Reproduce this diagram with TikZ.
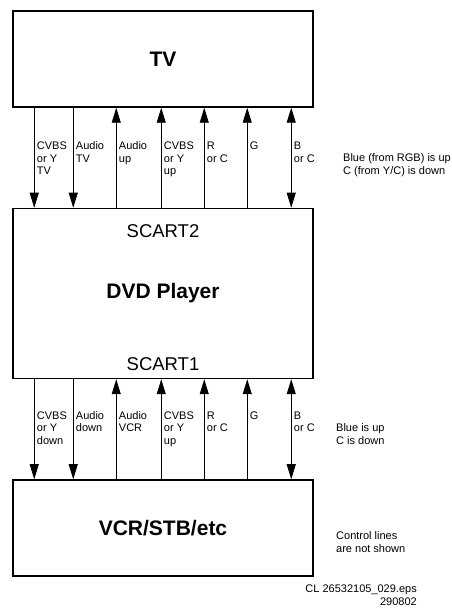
\documentclass[tikz,border=0pt]{standalone}
\usepackage{fontspec}
\setmainfont{Liberation Sans}
\usetikzlibrary{positioning,arrows.meta}

\begin{document}
\begin{tikzpicture}[x=1pt,y=1pt,
  unit/.style={rectangle,draw,line width=1.5pt,minimum width=300pt,inner sep=0pt,font=\fontsize{21}{24}\selectfont\bfseries},
  port/.style={inner sep=0pt,font=\fontsize{18.5}{22}\selectfont},
  sig/.style={line width=0.8pt,>={Triangle[length=15pt,width=9pt]}},
  lbl/.style={anchor=north west,inner sep=0pt,align=left,font=\fontsize{11}{12.5}\selectfont},
  note/.style={anchor=north west,inner sep=0pt,align=left,font=\fontsize{11}{13}\selectfont},
]
\useasboundingbox (0,0) rectangle (451,608);

% Units
\node[unit,minimum height=96pt] (TV) at (163,549) {TV};
\node[unit,minimum height=170pt,below=100pt of TV] (DVD) {DVD Player};
\node[unit,minimum height=96pt,below=100pt of DVD] (VCR) {VCR/STB/etc};

% Connectors on the DVD player
\node[port] (scart2) at ([yshift=-23pt]DVD.north) {SCART2};
\node[port] (scart1) at ([yshift=15pt]DVD.south) {SCART1};

% Signals between TV and DVD
\foreach \x in {22,61}
  \draw[sig,->] ([xshift=\x]TV.south west) -- ([xshift=\x]DVD.north west);
\foreach \x in {104,149,192,235}
  \draw[sig,<-] ([xshift=\x]TV.south west) -- ([xshift=\x]DVD.north west);
\draw[sig,<->] ([xshift=279]TV.south west) -- ([xshift=279]DVD.north west);

% Signals between DVD and VCR
\foreach \x in {22,61}
  \draw[sig,->] ([xshift=\x]DVD.south west) -- ([xshift=\x]VCR.north west);
\foreach \x in {104,149,192,235}
  \draw[sig,<-] ([xshift=\x]DVD.south west) -- ([xshift=\x]VCR.north west);
\draw[sig,<->] ([xshift=279]DVD.south west) -- ([xshift=279]VCR.north west);

% Signal names
\foreach \x/\t in {22/{CVBS\\or Y\\TV},61/{Audio\\TV},104/{Audio\\up},149/{CVBS\\or Y\\up},192/{R\\or C},235/G,279/{B\\or C}}
  \node[lbl] (up\x) at ([xshift=\x+2.5,yshift=-34]TV.south west) {\t};
\foreach \x/\t in {22/{CVBS\\or Y\\down},61/{Audio\\down},104/{Audio\\VCR},149/{CVBS\\or Y\\up},192/{R\\or C},235/G,279/{B\\or C}}
  \node[lbl] (dn\x) at ([xshift=\x+2.5,yshift=-32]DVD.south west) {\t};

% Side notes
\node[note] (note1) at (343,455) {Blue (from RGB) is up\\C (from Y/C) is down};
\node[note] (note2) at (336,185) {Blue is up\\C is down};
\node[note] (note3) at (336,77) {Control lines\\are not shown};
\node[note,anchor=north east,align=right] (ref) at (417,23) {CL 26532105\_029.eps\\290802};

\end{tikzpicture}
\end{document}
